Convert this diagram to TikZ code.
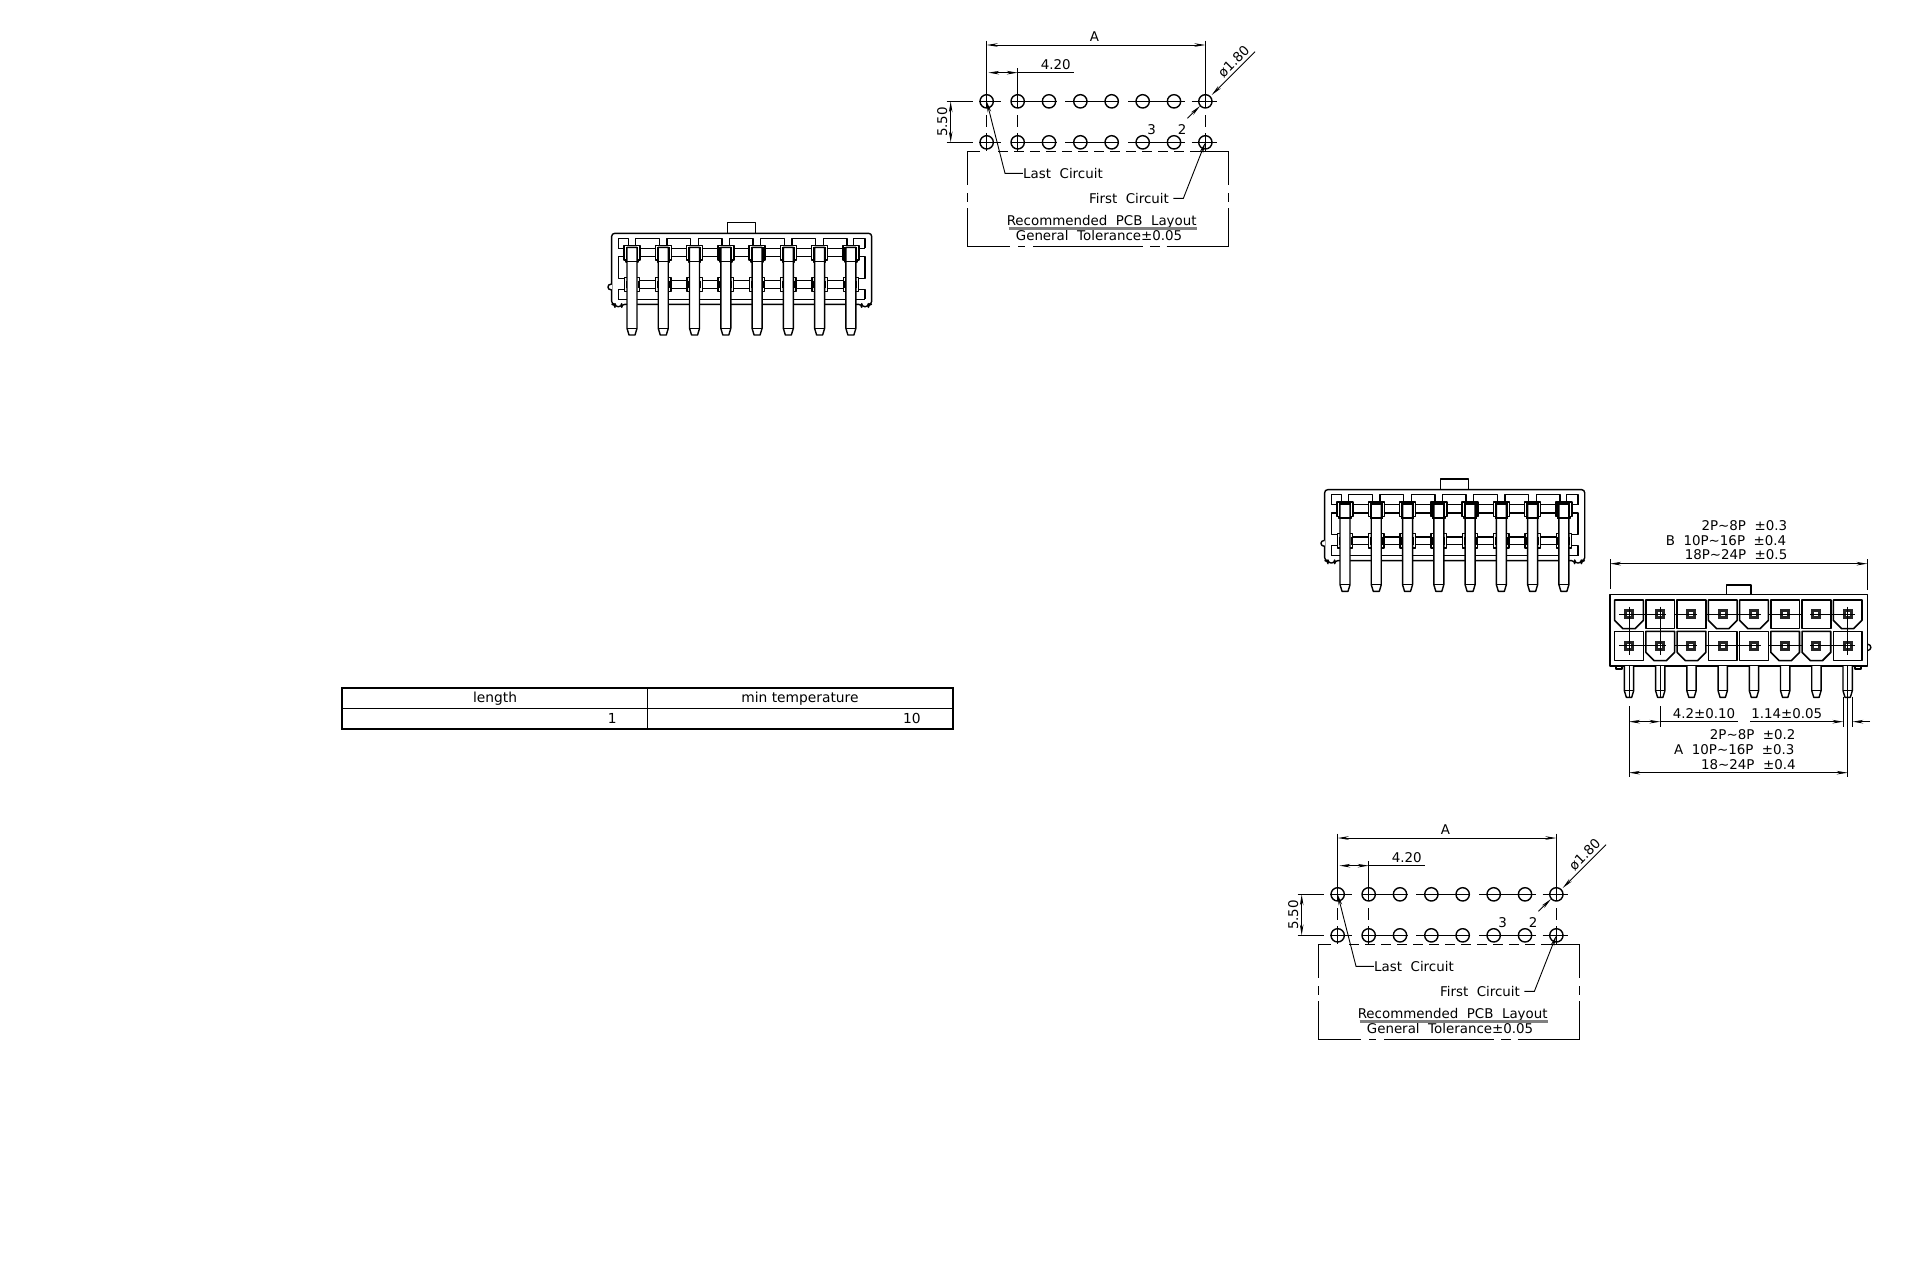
\documentclass[tikz,border=0pt]{standalone}
\usepackage{fontspec}
\setmainfont{DejaVu Sans}
\usetikzlibrary{arrows.meta}
\tikzset{
  part/.style={line width=0.7pt, line join=round},
  thin part/.style={line width=0.5pt},
  dimline/.style={line width=0.45pt, {Stealth[length=5.5pt,width=1.8pt]}-{Stealth[length=5.5pt,width=1.8pt]}},
  dimend/.style={line width=0.45pt, -{Stealth[length=5.5pt,width=1.8pt]}},
  cadlabel/.style={font=\fontsize{6.7}{8}\selectfont, inner sep=0pt},
  tablelabel/.style={font=\fontsize{6.9}{8}\selectfont, inner sep=0pt},
}
% one unit of the scopes below is a third of a pixel
\newcommand{\sideview}[1]{
  \begin{scope}[shift={#1}, x=0.16667pt, y=-0.16667pt]
    \draw[part] (383,70) -- (383,38) -- (466,38) -- (466,70);
    \draw[part, rounded corners=1.5pt] (45,290) -- (45,283) -- (35,283) -- (35,70) -- (815,70) -- (815,283) -- (805,283) -- (805,290) -- (785,290) -- (785,283) -- (65,283) -- (65,290) -- cycle;
    \draw[part, fill=white] (35,222) .. controls (20,222) and (20,240) .. (35,240);
    \draw[part] (55,268) -- (795,268);
    \draw[part] (55,115) -- (55,85) -- (85,85) -- (85,107);
    \draw[part] (75,140) -- (55,140) -- (55,205) -- (75,205);
    \draw[part] (75,238) -- (55,238) -- (55,268);
    \draw[part] (795,115) -- (795,85) -- (760,85) -- (760,107);
    \draw[part] (775,140) -- (795,140) -- (795,205) -- (775,205);
    \draw[part] (775,238) -- (795,238) -- (795,268);
    \draw[part] (55,115) -- (74,115);
    \draw[part] (775,115) -- (795,115);
    \foreach \i in {0,...,6} {
      \pgfmathsetmacro{\px}{96+93.8*\i}
      \draw[part] (\px+11,107) -- (\px+11,85) -- (\px+82,85) -- (\px+82,107);
      \draw[part] (\px+22,115) -- (\px+72,115);
      \draw[part] (\px+22,140) -- (\px+72,140);
      \draw[part] (\px+22,212) -- (\px+72,212);
      \draw[part] (\px+22,235) -- (\px+72,235);
    }
    \foreach \i in {0,...,7} {
      \pgfmathsetmacro{\px}{96+93.8*\i}
      \draw[part] (\px-24,107) -- (\px+24,107) -- (\px+24,150) -- (\px+18,150) -- (\px+18,156) -- (\px-18,156) -- (\px-18,150) -- (\px-24,150) -- cycle;
      \draw[part] (\px-23,202) rectangle (\px+23,245);
      \draw[thin part] (\px-18,212) -- (\px-18,235);
      \draw[thin part] (\px+18,212) -- (\px+18,235);
      \draw[part, fill=white] (\px-15,112) -- (\px-15,355) -- (\px-9,375) -- (\px+9,375) -- (\px+15,355) -- (\px+15,112) -- cycle;
      \draw[part] (\px-15,355) -- (\px+15,355);
      \draw[line width=0.8pt] (\px-17,113) rectangle (\px+17,155);
    }
  \end{scope}
}
\newcommand{\pcbview}[2]{
  \begin{scope}[shift={#2}, x=0.16667pt, y=-0.16667pt]
    \foreach \i/\hx in {0/170,1/263,2/357,3/451,4/545,5/638,6/732,7/826} {
      \coordinate (#1a\i) at (\hx,244);
      \coordinate (#1b\i) at (\hx,367);
      \draw[part] (#1a\i) circle (20);
      \draw[part] (#1b\i) circle (20);
    }
    \foreach \r in {244,367} {
      \foreach \u/\v in {50/128,148/212,245/380,405/565,595/765,785/860}
        \draw[thin part] (\u,\r) -- (\v,\r);
    }
    \foreach \c/\t in {170/62,263/145,826/62} {
      \draw[thin part] (\c,\t) -- (\c,265);
      \draw[thin part] (\c,285) -- (\c,320);
      \draw[thin part] (\c,340) -- (\c,392);
    }
    \draw[thin part] (112,394) -- (150,394);
    \draw[thin part, dash pattern=on 4.67pt off 3.33pt] (205,394) -- (800,394);
    \draw[thin part] (800,394) -- (895,394);
    \foreach \u/\v in {112/240,265/285,310/640,660/690,710/895}
      \draw[thin part] (\u,680) -- (\v,680);
    \foreach \s in {112,895} {
      \draw[thin part] (\s,394) -- (\s,495);
      \draw[thin part] (\s,520) -- (\s,545);
      \draw[thin part] (\s,565) -- (\s,680);
    }
    \draw[dimline] (170,75) -- (826,75);
    \node[cadlabel] (#1wide) at (493,50) {A};
    \draw[dimline] (175,158) -- (263,158);
    \draw[thin part] (263,158) -- (432,158);
    \node[cadlabel] (#1pitch) at (377,135) {4.20};
    \draw[dimline] (62,244) -- (62,367);
    \node[cadlabel, rotate=90] (#1row) at (37,306) {5.50};
    \coordinate (#1far) at (975,95);
    \coordinate (#1near) at (772,295);
    \draw[dimend] (#1far) -- (845,225);
    \draw[dimend] (#1near) -- (810,258);
    \node[cadlabel, rotate=45] (#1dia) at (911,125) {ø1.80};
    \node[cadlabel] (#1three) at (665,328) {3};
    \node[cadlabel] (#1two) at (756,328) {2};
    \node[cadlabel] (#1last) at (399,460) {Last\ \ Circuit};
    \node[cadlabel] (#1first) at (597,535) {First\ \ Circuit};
    \draw[dimend] (#1last.west) -- (225,460) -- (#1a0);
    \draw[dimend] (#1first.east) ++(12,0) -- (760,535) -- (#1b7);
    \node[cadlabel] (#1rec) at (515,606) {Recommended\ \ PCB\ \ Layout};
    \node[cadlabel] (#1tol) at (507,646) {General\ \ Tolerance±0.05};
    \draw[line width=1.4pt, black!50] (236,626) -- (802,626);
  \end{scope}
}
\begin{document}
\begin{tikzpicture}[x=0.5pt, y=-0.5pt]
  \useasboundingbox (0,0) rectangle (1920,1280);
  \sideview{(600,210)}
  \sideview{(1313,466.33)}
  \pcbview{u}{(930,20)}
  \pcbview{v}{(1281,813)}
  % table
  \draw[line width=0.9pt] (342,688) rectangle (953,729);
  \draw[line width=0.45pt] (342,708.5) -- (953,708.5);
  \draw[line width=0.45pt] (647.5,688) -- (647.5,729);
  \node[tablelabel] (lengthhead) at (495,698.5) {length};
  \node[tablelabel] (temphead) at (800,698.5) {min temperature};
  \node[tablelabel, anchor=east] (lengthval) at (617,718.5) {1};
  \node[tablelabel, anchor=east] (tempval) at (921,718.5) {10};
  % front view
  \begin{scope}[shift={(1600,500)}, x=0.16667pt, y=-0.16667pt]
    \draw[part] (30,283) rectangle (802,498);
    \draw[part] (380,283) -- (380,255) -- (453,255) -- (453,283);
    \draw[part] (802,432) .. controls (816,434) and (816,450) .. (802,452);
    \draw[part] (48,498) -- (48,507) -- (66,507) -- (66,498);
    \draw[part] (765,498) -- (765,507) -- (783,507) -- (783,498);
    \foreach \i/\da/\db in {0/25/0,1/0/25,2/0/25,3/25/0,4/25/0,5/0/25,6/0/25,7/25/0} {
      \pgfmathsetmacro{\cx}{87+93.7*\i}
      \draw[line width=0.8pt, line join=round] (\cx-43,300) -- (\cx+43,300) -- (\cx+43,386-\da) -- (\cx+43-\da,386) -- (\cx-43+\da,386) -- (\cx-43,386-\da) -- cycle;
      \draw[line width=0.8pt, line join=round] (\cx-43,394) -- (\cx+43,394) -- (\cx+43,482-\db) -- (\cx+43-\db,482) -- (\cx-43+\db,482) -- (\cx-43,482-\db) -- cycle;
      \foreach \ry in {343,437} {
        \fill[black!85] (\cx-15,\ry-15) rectangle (\cx+15,\ry+15);
        \fill[white] (\cx-6,\ry-6) rectangle (\cx+6,\ry+6);
      }
      \draw[part, fill=white] (\cx-14,498) -- (\cx-14,572) -- (\cx-8,592) -- (\cx+8,592) -- (\cx+14,572) -- (\cx+14,498);
      \draw[part] (\cx-14,572) -- (\cx+14,572);
    }
    \foreach \ry in {343,437} {
      \foreach \u/\v in {57/197,222/292,318/483,505/605,630/765}
        \draw[thin part] (\u,\ry) -- (\v,\ry);
    }
    \foreach \c in {87,181,743} {
      \draw[thin part] (\c,320) -- (\c,465);
      \draw[thin part] (\c,498) -- (\c,592);
    }
    \draw[thin part] (30,178) -- (30,268);
    \draw[thin part] (802,178) -- (802,270);
    \draw[dimline] (30,191) -- (802,191);
    \node[cadlabel] (bone) at (433,77) {2P{\char"7E}8P\ \ ±0.3};
    \node[cadlabel] (btwo) at (378,121) {B\ \ 10P{\char"7E}16P\ \ ±0.4};
    \node[cadlabel] (bthree) at (408,165) {18P{\char"7E}24P\ \ ±0.5};
    \draw[thin part] (87,618) -- (87,832);
    \draw[thin part] (181,618) -- (181,680);
    \draw[thin part] (730,590) -- (730,680);
    \draw[thin part] (757,590) -- (757,680);
    \draw[thin part] (743,592) -- (743,832);
    \draw[dimline] (87,665) -- (181,665);
    \draw[thin part] (181,665) -- (415,665);
    \node[cadlabel] (pitchlab) at (312,640) {4.2±0.10};
    \coordinate (pinfree) at (450,665);
    \coordinate (pinfar) at (810,665);
    \draw[dimend] (pinfree) -- (730,665);
    \draw[dimend] (pinfar) -- (757,665);
    \node[cadlabel] (pinlab) at (560,640) {1.14±0.05};
    \node[cadlabel] (aone) at (458,704) {2P{\char"7E}8P\ \ ±0.2};
    \node[cadlabel] (atwo) at (403,748) {A\ \ 10P{\char"7E}16P\ \ ±0.3};
    \node[cadlabel] (athree) at (445,793) {18{\char"7E}24P\ \ ±0.4};
    \draw[dimline] (87,818) -- (743,818);
  \end{scope}
\end{tikzpicture}
\end{document}
